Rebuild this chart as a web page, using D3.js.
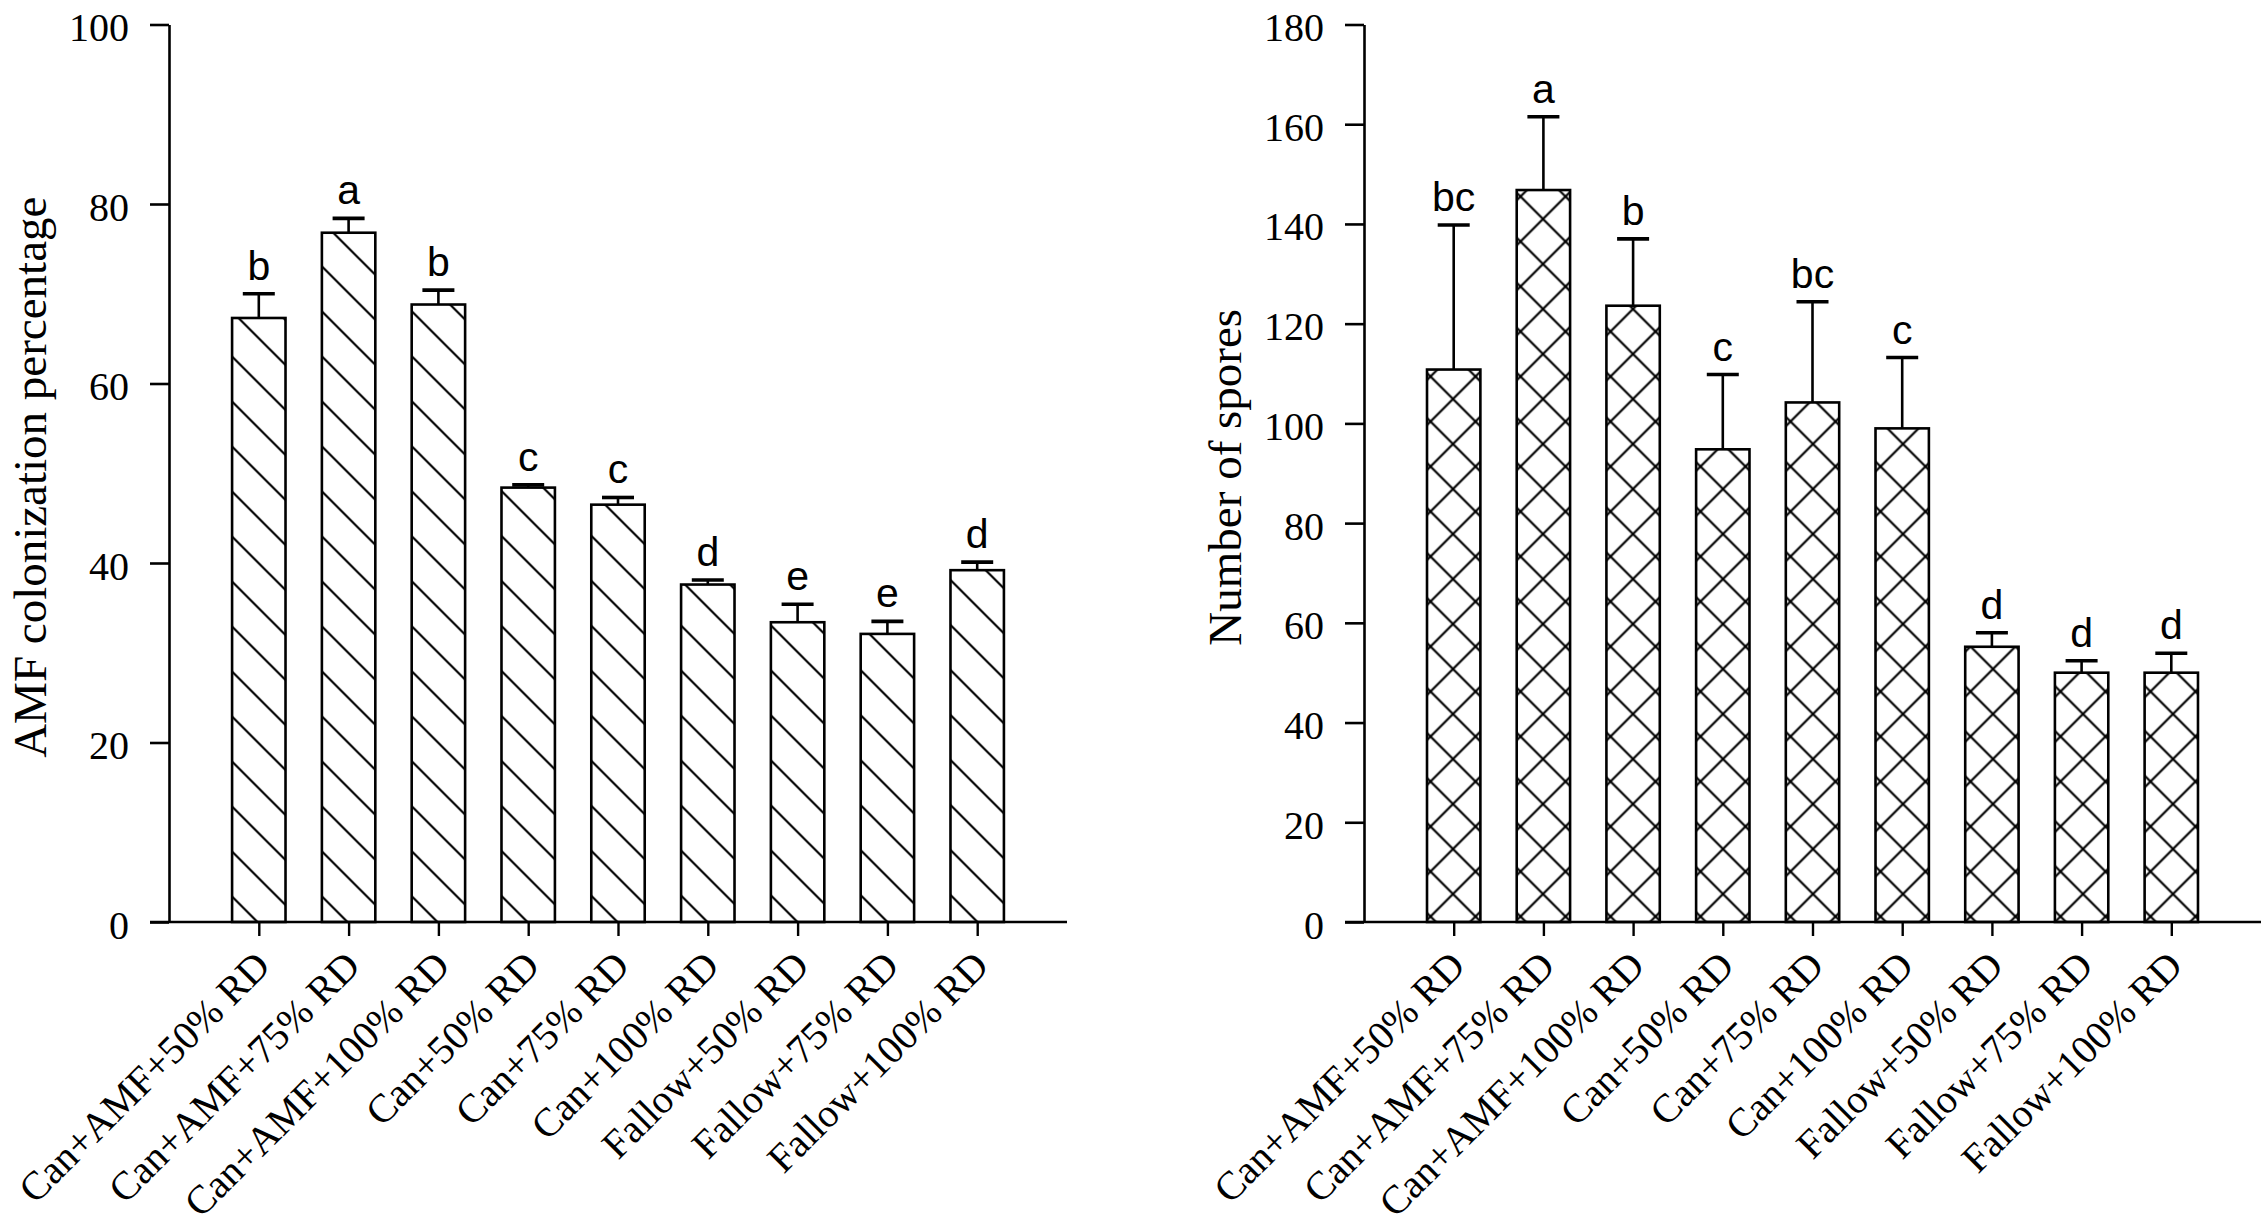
<!DOCTYPE html>
<html>
<head>
<meta charset="utf-8">
<script src="https://cdn.jsdelivr.net/npm/d3@7"></script>
<style>
  html, body { margin: 0; padding: 0; background: #fff; }
  svg { display: block; }
</style>
</head>
<body>
<div id="chart"></div>
<script>
// data
const categories = ['Can+AMF+50% RD', 'Can+AMF+75% RD', 'Can+AMF+100% RD', 'Can+50% RD', 'Can+75% RD',
  'Can+100% RD', 'Fallow+50% RD', 'Fallow+75% RD', 'Fallow+100% RD'];

const colonization = [67.3, 76.8, 68.8, 48.4, 46.5, 37.6, 33.4, 32.1, 39.2];
const colonizationErr = [2.7, 1.6, 1.6, 0.3, 0.8, 0.5, 2.0, 1.4, 0.9];
const colonizationLetters = ['b', 'a', 'b', 'c', 'c', 'd', 'e', 'e', 'd'];
const colonizationTicks = [0, 20, 40, 60, 80, 100];

const spores = [110.8, 146.8, 123.6, 94.8, 104.2, 99.0, 55.2, 50.0, 50.0];
const sporesErr = [29.0, 14.7, 13.4, 15.0, 20.2, 14.2, 2.8, 2.4, 3.9];
const sporesLetters = ['bc', 'a', 'b', 'c', 'bc', 'c', 'd', 'd', 'd'];
const sporesTicks = [0, 20, 40, 60, 80, 100, 120, 140, 160, 180];

// dimensions
const WIDTH = 2268;
const HEIGHT = 1228;
const TOP = 24.5;
const BOTTOM = 922;
const SERIF = '"Liberation Serif", "Times New Roman", serif';
const SANS = '"Liberation Sans", Arial, sans-serif';

const $svg = d3.select('#chart').append('svg')
  .attr('width', WIDTH)
  .attr('height', HEIGHT);

// hatch patterns
const $defs = $svg.append('defs');

const $diag = $defs.append('pattern')
  .attr('id', 'hatch-diag')
  .attr('patternUnits', 'userSpaceOnUse')
  .attr('width', 45)
  .attr('height', 45)
  .attr('y', 34.5);
$diag.append('path')
  .attr('d', 'M-5,-5L50,50M-50,-5L5,50M40,-5L95,50')
  .attr('stroke', '#000')
  .attr('stroke-width', 2.2);

const $cross = $defs.append('pattern')
  .attr('id', 'hatch-cross')
  .attr('patternUnits', 'userSpaceOnUse')
  .attr('width', 45)
  .attr('height', 45)
  .attr('x', 1453 - 22.5)
  .attr('y', 759 - 22.5);
$cross.append('path')
  .attr('d', 'M-5,-5L50,50M-50,-5L5,50M40,-5L95,50M50,-5L-5,50M95,-5L40,50M5,-5L-50,50')
  .attr('stroke', '#000')
  .attr('stroke-width', 2.2);

function drawPanel(opts) {
  const $g = $svg.append('g').attr('class', 'panel');

  const scaleX = d3.scalePoint()
    .domain(categories)
    .range([opts.left, opts.right])
    .padding(1);

  const scaleY = d3.scaleLinear()
    .domain([0, d3.max(opts.ticks)])
    .range([BOTTOM, TOP]);

  const barWidth = scaleX.step() * 0.595;

  // bars
  $g.append('g').selectAll('rect')
    .data(opts.values)
    .join('rect')
    .attr('x', (d, i) => scaleX(categories[i]) - barWidth / 2)
    .attr('y', d => scaleY(d))
    .attr('width', barWidth)
    .attr('height', d => BOTTOM - scaleY(d))
    .attr('fill', '#fff');

  $g.append('g').selectAll('rect')
    .data(opts.values)
    .join('rect')
    .attr('x', (d, i) => scaleX(categories[i]) - barWidth / 2)
    .attr('y', d => scaleY(d))
    .attr('width', barWidth)
    .attr('height', d => BOTTOM - scaleY(d))
    .attr('fill', `url(#${opts.pattern})`)
    .attr('stroke', '#000')
    .attr('stroke-width', 2.6);

  // error bars (upper only) + letters
  const $err = $g.append('g').attr('class', 'err');
  opts.values.forEach((v, i) => {
    const cx = scaleX(categories[i]);
    const yTop = scaleY(v + opts.errors[i]);
    $err.append('line')
      .attr('x1', cx).attr('x2', cx)
      .attr('y1', scaleY(v)).attr('y2', yTop)
      .attr('stroke', '#000')
      .attr('stroke-width', 2.6);
    $err.append('line')
      .attr('x1', cx - 16).attr('x2', cx + 16)
      .attr('y1', yTop).attr('y2', yTop)
      .attr('stroke', '#000')
      .attr('stroke-width', 3.6);
    $g.append('text')
      .attr('x', cx)
      .attr('y', yTop - 14)
      .attr('text-anchor', 'middle')
      .attr('font-family', SANS)
      .attr('font-size', 41)
      .attr('fill', '#000')
      .text(opts.letters[i]);
  });

  // y axis
  const $axisY = $g.append('g')
    .attr('transform', `translate(${opts.left},0)`)
    .call(d3.axisLeft(scaleY).tickValues(opts.ticks).tickSize(19).tickPadding(21).tickSizeOuter(0));
  $axisY.select('.domain').attr('stroke-width', 2.6);
  $axisY.selectAll('.tick line').attr('stroke-width', 2.6);
  $axisY.selectAll('.tick text')
    .attr('font-family', SERIF)
    .attr('font-size', 40)
    .attr('fill', '#000')
    .attr('dy', '0.4em');

  // x axis
  const $axisX = $g.append('g')
    .attr('transform', `translate(0,${BOTTOM})`)
    .call(d3.axisBottom(scaleX).tickSize(14).tickSizeOuter(0).tickFormat(''));
  $axisX.select('.domain')
    .attr('d', `M${opts.left - 19},0H${opts.right}`)
    .attr('stroke-width', 2.6);
  $axisX.selectAll('.tick line').attr('stroke-width', 2.4);

  $axisX.selectAll('.tick').append('text')
    .attr('transform', 'translate(13,46) rotate(-45)')
    .attr('text-anchor', 'end')
    .attr('font-family', SERIF)
    .attr('font-size', 40)
    .attr('fill', '#000')
    .text(d => d);

  // y title
  $g.append('text')
    .attr('transform', `translate(${opts.left - 123},${(TOP + BOTTOM) / 2 + 4}) rotate(-90)`)
    .attr('text-anchor', 'middle')
    .attr('font-family', SERIF)
    .attr('font-size', 47)
    .attr('fill', '#000')
    .text(opts.title);
}

drawPanel({
  left: 169,
  right: 1067,
  values: colonization,
  errors: colonizationErr,
  letters: colonizationLetters,
  ticks: colonizationTicks,
  pattern: 'hatch-diag',
  title: 'AMF colonization percentage'
});

drawPanel({
  left: 1364,
  right: 2261,
  values: spores,
  errors: sporesErr,
  letters: sporesLetters,
  ticks: sporesTicks,
  pattern: 'hatch-cross',
  title: 'Number of spores'
});
</script>
</body>
</html>
